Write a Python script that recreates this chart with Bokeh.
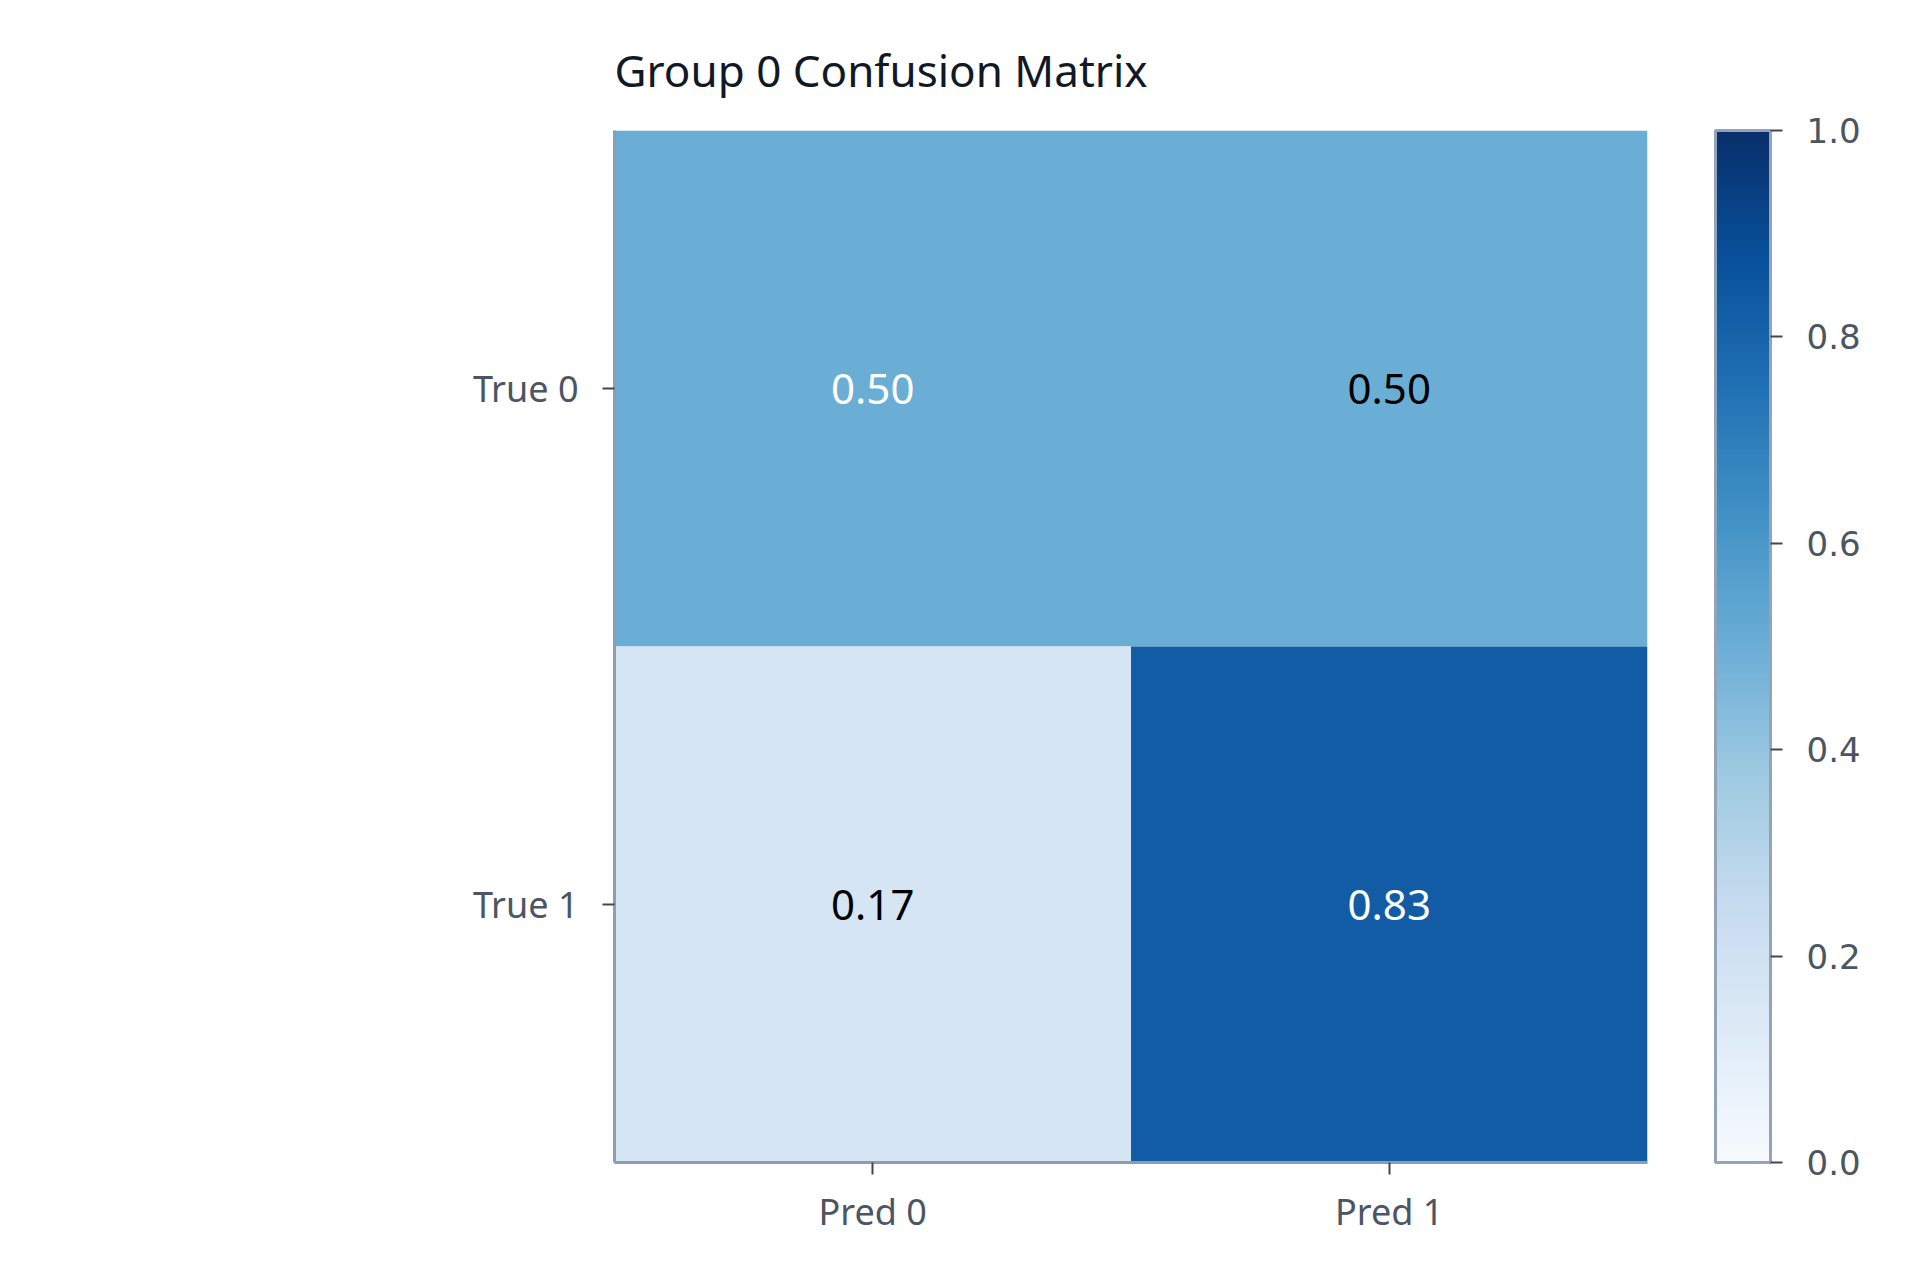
from bokeh.plotting import figure
from bokeh.models import ColumnDataSource, LinearColorMapper, ColorBar, FixedTicker, PrintfTickFormatter
from bokeh.palettes import Blues256
from bokeh.embed import file_html
from bokeh.resources import INLINE

# datos de la matriz
pred_labels = ["Pred 0", "Pred 1"]
true_labels = ["True 0", "True 1"]
cell_pred = ["Pred 0", "Pred 1", "Pred 0", "Pred 1"]
cell_true = ["True 0", "True 0", "True 1", "True 1"]
cell_values = [0.50, 0.50, 0.17, 0.83]
cbar_ticks = [0.0, 0.2, 0.4, 0.6, 0.8, 1.0]

text_colors = ["white", "black", "black", "white"]
font = "Noto Sans"

source = ColumnDataSource(data=dict(
    pred=cell_pred,
    true=cell_true,
    val=cell_values,
    txt=["%.2f" % v for v in cell_values],
    tcol=text_colors,
))

mapper = LinearColorMapper(palette=list(reversed(Blues256)), low=0, high=1)

p = figure(x_range=pred_labels, y_range=list(reversed(true_labels)),
           width=1904, height=1264, frame_width=1033, frame_height=1032,
           min_border_left=614, min_border_top=130, min_border_right=40,
           output_backend="svg", toolbar_location=None,
           title="Group 0 Confusion Matrix")

p.rect(x="pred", y="true", width=1, height=1, source=source,
       fill_color={"field": "val", "transform": mapper}, line_color=None)
p.text(x="pred", y="true", text="txt", source=source, text_color="tcol",
       text_align="center", text_baseline="middle", text_font_size="42px",
       text_font={"value": font})

p.title.text_font = font
p.title.text_font_size = "44px"
p.title.text_font_style = "normal"
p.title.text_color = "#111827"
p.title.standoff = 61

p.grid.visible = False
p.outline_line_color = None
p.x_range.range_padding = 0
p.y_range.range_padding = 0

for ax in (p.xaxis[0], p.yaxis[0]):
    ax.axis_line_color = "#8d9db2"
    ax.axis_line_width = 3
    ax.major_tick_line_color = "#3f4654"
    ax.major_tick_line_width = 2
    ax.major_tick_out = 12
    ax.major_tick_in = 0
    ax.minor_tick_line_color = None
    ax.major_label_text_font = font
    ax.major_label_text_font_size = "36px"
    ax.major_label_text_color = "#4b5563"
p.yaxis.major_label_standoff = 24
p.xaxis.major_label_standoff = 12

cbar = ColorBar(color_mapper=mapper, width=55, padding=0, margin=0,
                location=(68, 0),
                ticker=FixedTicker(ticks=cbar_ticks),
                formatter=PrintfTickFormatter(format="%.1f"),
                major_tick_out=12, major_tick_in=0,
                major_tick_line_color="#3f4654", major_tick_line_width=2,
                minor_tick_line_color=None,
                bar_line_color="#94a3b8", bar_line_width=3,
                border_line_color=None, background_fill_color=None,
                major_label_text_font="DejaVu Sans", major_label_text_font_size="34px",
                major_label_text_color="#4b5563", label_standoff=24)
p.add_layout(cbar, "right")

open("out.html", "w").write(file_html(p, INLINE))
